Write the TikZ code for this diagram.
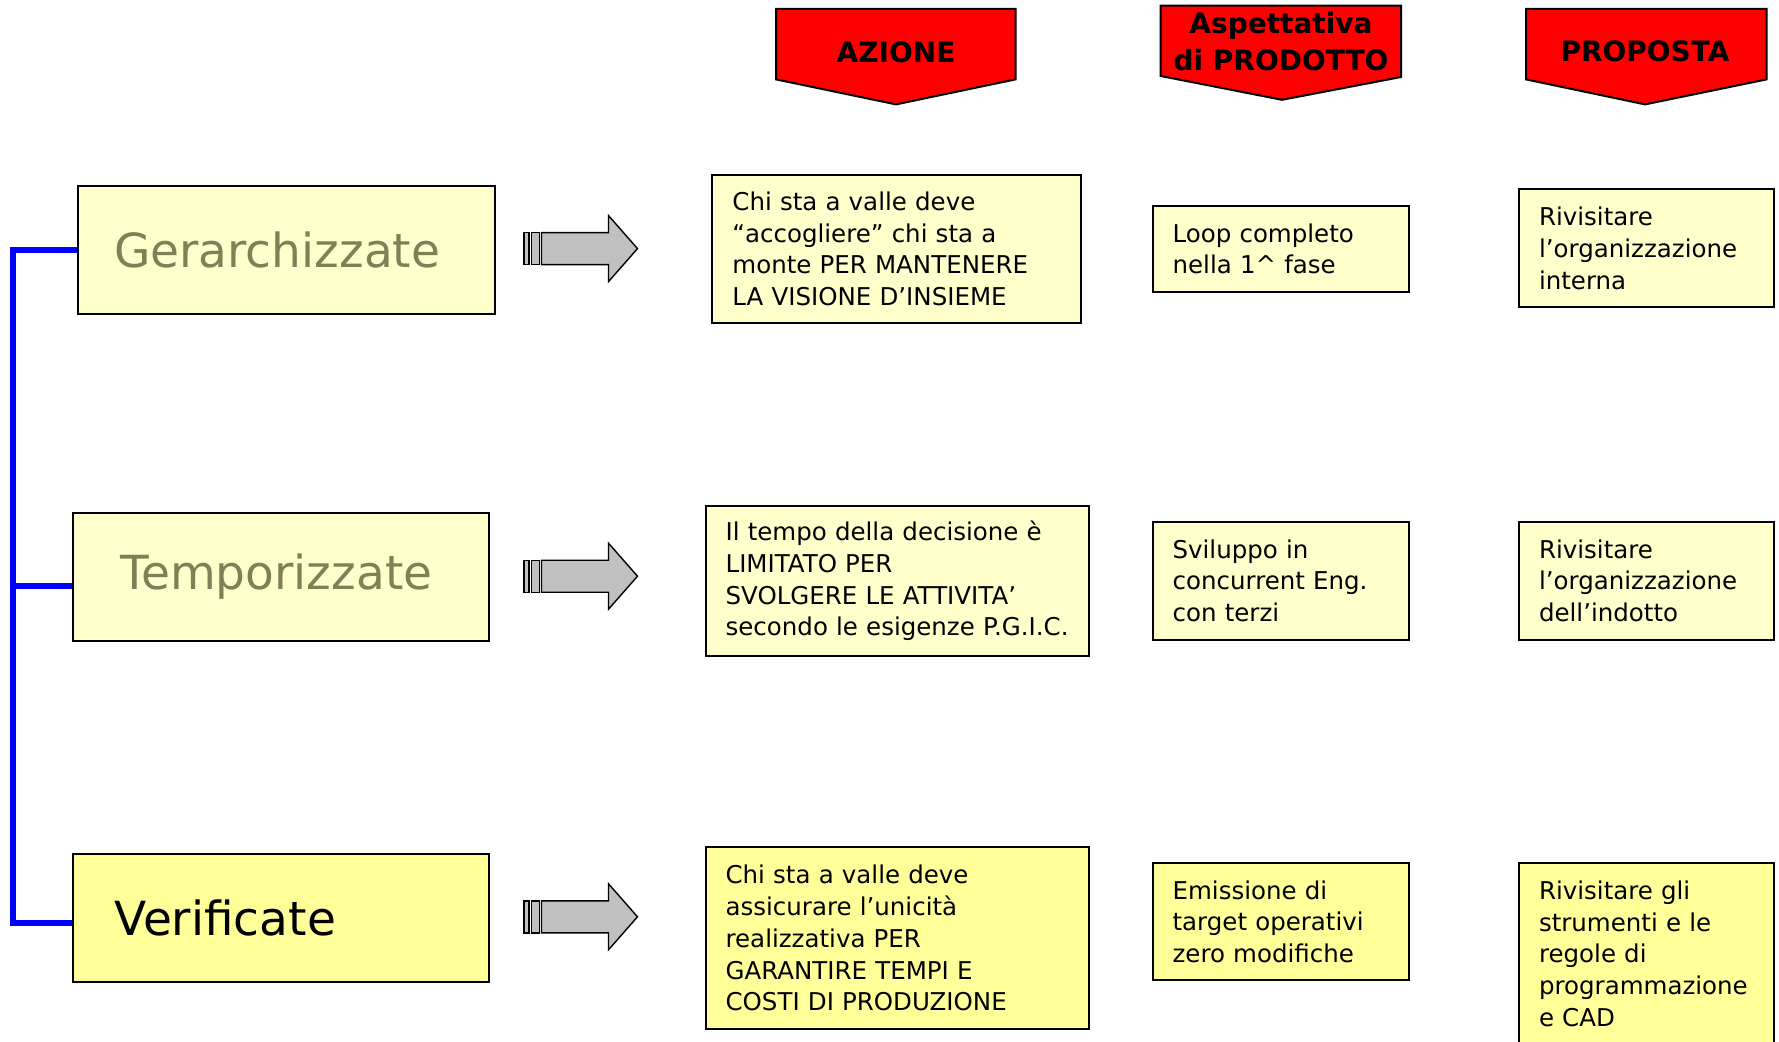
\documentclass[tikz,border=0pt]{standalone}
\usepackage{fontspec}
\setmainfont{DejaVu Sans}
\usetikzlibrary{calc}
\pgfdeclarelayer{background}
\pgfsetlayers{background,main}
\definecolor{paleyellow}{RGB}{255,255,204}
\definecolor{brightyellow}{RGB}{255,255,153}
\definecolor{labelolive}{RGB}{128,128,88}
\definecolor{arrowgray}{RGB}{192,192,192}
\definecolor{busblue}{RGB}{0,0,255}

\tikzset{
  box/.style={draw=black, line width=2pt, fill=paleyellow, inner xsep=20pt,
    inner ysep=0pt, align=left, anchor=north west,
    font=\fontsize{24.5}{31.8}\selectfont},
  hot/.style={fill=brightyellow},
  catbox/.style={draw=black, line width=2pt, fill=paleyellow, inner sep=0pt,
    anchor=north west, font=\fontsize{47}{56}\selectfont},
  hdr/.style={draw=black, line width=2pt, fill=red, line join=miter},
  hdrtext/.style={font=\fontsize{28}{37.4}\selectfont\bfseries, align=center, inner sep=0pt},
  arrowpart/.style={draw=black, line width=1.4pt, fill=arrowgray, line join=miter},
  bus/.style={draw=busblue, line width=6pt, line join=miter},
  blockarrow/.pic={
    \draw[arrowpart] (0,-16) rectangle (5,16);
    \draw[arrowpart] (7.5,-16) rectangle (15.5,16);
    \draw[arrowpart] (17.5,-16) -- (84.5,-16) -- (84.5,-33) -- (113.5,0)
      -- (84.5,33) -- (84.5,16) -- (17.5,16) -- cycle;
  }
}

\begin{document}
\begin{tikzpicture}[x=1pt,y=-1pt]
\useasboundingbox (0,0) rectangle (1779,1041);

% column headers
\draw[hdr] (776,9) -- (1015.5,9) -- (1015.5,79.4) -- (896,104.4) -- (776,79.4) -- cycle;
\node[hdrtext] (hA) at (896,52) {AZIONE};
\draw[hdr] (1160.7,5.7) -- (1401.2,5.7) -- (1401.2,77) -- (1282,99.8) -- (1160.7,76) -- cycle;
\node[hdrtext] (hP) at (1281,41.5) {Aspettativa\\di PRODOTTO};
\draw[hdr] (1526,9) -- (1766.6,9) -- (1766.6,79.4) -- (1645,104.4) -- (1526,79.4) -- cycle;
\node[hdrtext] (hR) at (1645,51.5) {PROPOSTA};

% category boxes
\node[catbox, minimum height=128pt] (g) at (77.2,185)
  {\makebox[416.3pt][l]{\hspace*{36pt}\textcolor{labelolive}{Gerarchizzate}}};
\node[catbox, minimum height=128.3pt] (t) at (71.5,511.7)
  {\makebox[416.5pt][l]{\hspace*{48pt}\textcolor{labelolive}{Temporizzate}}};
\node[catbox, hot, minimum height=128pt] (v) at (71.5,853)
  {\makebox[416.5pt][l]{\hspace*{42pt}Verificate}};

% blue bus joining the categories, kept behind the boxes
\coordinate (tjoin) at ($(t.west)+(0,9.6)$);
\coordinate (vjoin) at ($(v.west)+(0,4.5)$);
\begin{pgfonlayer}{background}
  \draw[bus] (g.west) -- (12.5,0 |- g.west) -- (12.5,0 |- vjoin) -- (vjoin);
  \draw[bus] (12.5,0 |- tjoin) -- (tjoin);
\end{pgfonlayer}

% block arrows
\pic at (524,248.6) {blockarrow};
\pic at (524,576.2) {blockarrow};
\pic at (524,916.8) {blockarrow};

% AZIONE column
\node[box, text width=328.6pt, minimum height=148.6pt] (a1) at (711.4,173.6)
  {Chi sta a valle deve\\“accogliere” chi sta a\\monte PER MANTENERE\\LA VISIONE D’INSIEME};
\node[box, text width=343.4pt, minimum height=149.7pt] (a2) at (704.6,505)
  {Il tempo della decisione è\\LIMITATO PER\\SVOLGERE LE ATTIVITA’\\secondo le esigenze P.G.I.C.};
\node[box, hot, text width=343.4pt, minimum height=181.6pt] (a3) at (704.6,846.4)
  {Chi sta a valle deve\\assicurare l’unicità\\realizzativa PER\\GARANTIRE TEMPI E\\COSTI DI PRODUZIONE};

% Aspettativa di PRODOTTO column
\node[box, text width=216.4pt, minimum height=85.1pt] (p1) at (1151.6,205.4)
  {Loop completo\\nella 1\textasciicircum{} fase};
\node[box, text width=216.4pt, minimum height=118pt] (p2) at (1151.6,520.8)
  {Sviluppo in\\concurrent Eng.\\con terzi};
\node[box, hot, text width=216.4pt, minimum height=116.9pt] (p3) at (1151.6,862.3)
  {Emissione di\\target operativi\\zero modifiche};

% PROPOSTA column
\node[box, text width=215.4pt, minimum height=118pt] (r1) at (1518,188.3)
  {Rivisitare\\l’organizzazione\\interna};
\node[box, text width=215.4pt, minimum height=118pt] (r2) at (1518,520.8)
  {Rivisitare\\l’organizzazione\\dell’indotto};
\node[box, hot, text width=215.4pt, minimum height=181pt] (r3) at (1518,862.3)
  {Rivisitare gli\\strumenti e le\\regole di\\programmazione\\e CAD};
\end{tikzpicture}
\end{document}
